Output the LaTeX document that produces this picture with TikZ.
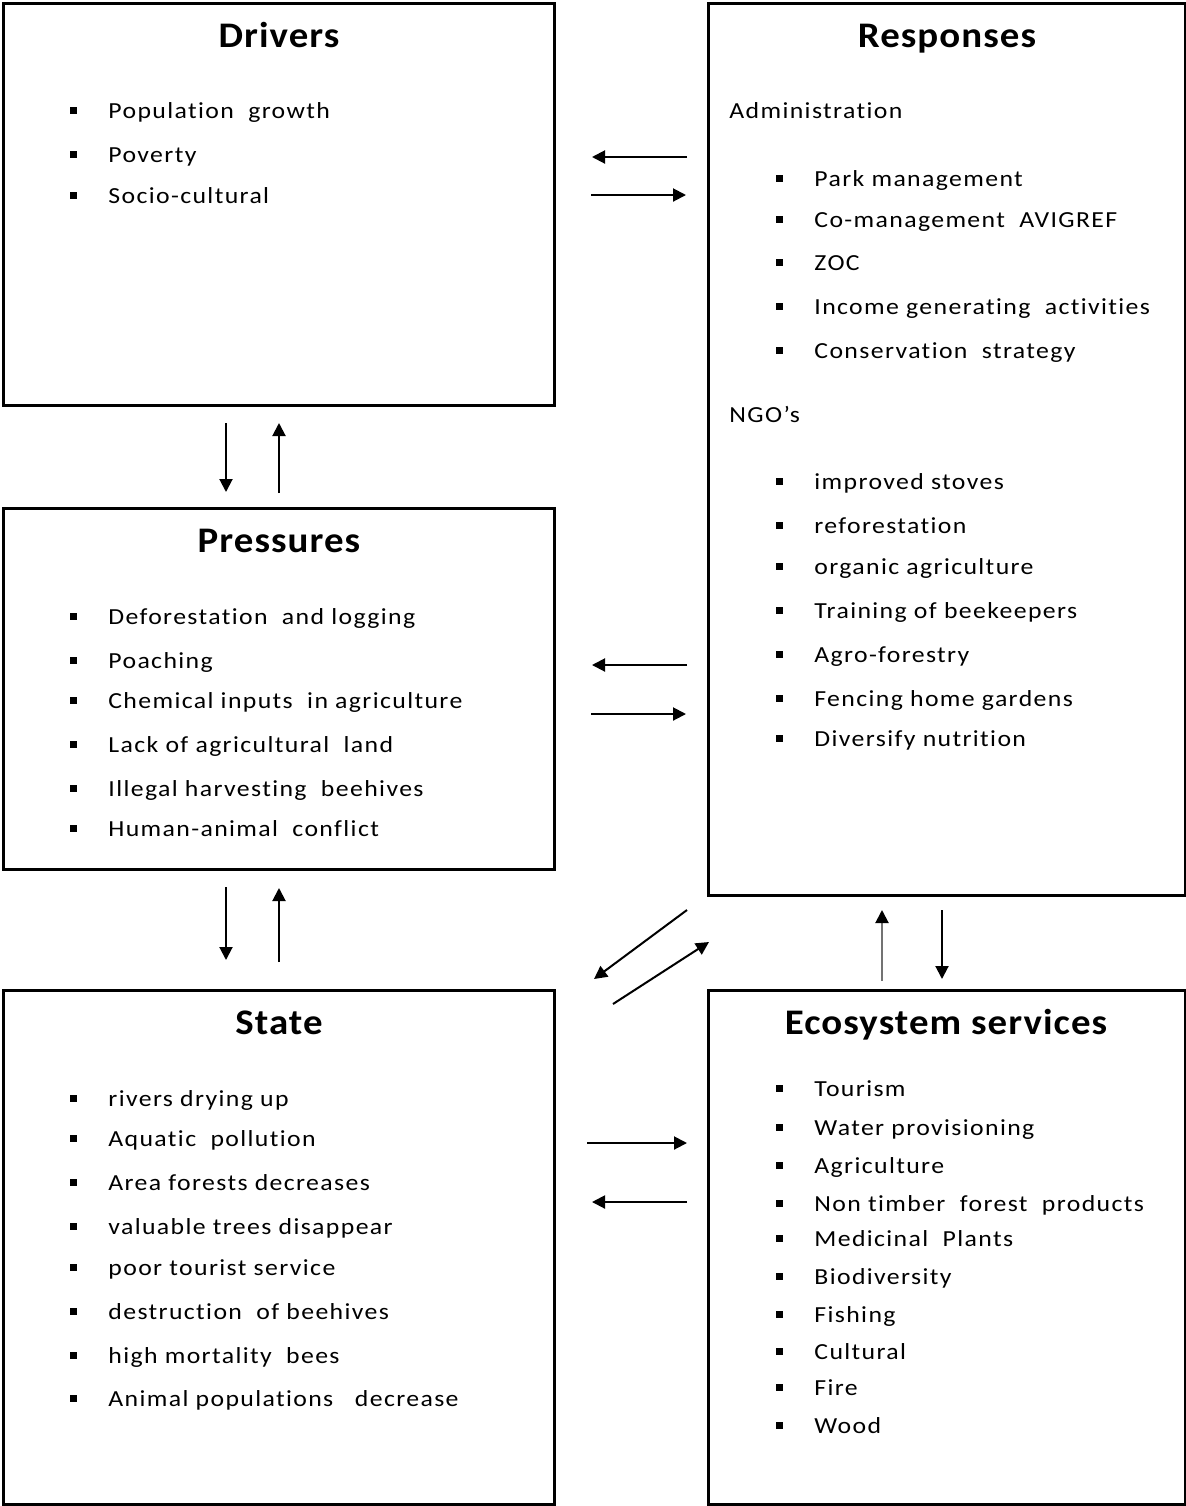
\documentclass[tikz,border=0pt]{standalone}
\usepackage{fontspec}
\setmainfont{Carlito}
\newfontfamily\bodyfont[FakeStretch=1.12,LetterSpace=6,Ligatures=NoCommon,RawFeature={-clig}]{Carlito}
\newfontfamily\titlefont[FakeStretch=1.08,LetterSpace=3,Ligatures=NoCommon]{Carlito}
\usetikzlibrary{arrows.meta}
\tikzset{
  box/.style={draw=black, line width=1.5pt},
  ttl/.style={anchor=base, font=\titlefont\fontsize{18}{20}\selectfont\bfseries, inner sep=0pt},
  itm/.style={anchor=base west, font=\bodyfont\fontsize{11.5}{13}\selectfont, inner sep=0pt},
  con/.style={line width=1pt, -{Triangle[length=6.5pt,width=6.5pt]}},
  greycon/.style={line width=1pt, draw=black!55, -{Triangle[length=6.5pt,width=6.5pt,black]}},
}
\newcommand{\bul}[2]{\fill (#1-3.5,#2-11.5) rectangle (#1+3.5,#2-4.5);}
\begin{document}
\begin{tikzpicture}[x=0.5pt,y=-0.5pt]
\useasboundingbox (0,0) rectangle (1186,1506);
% boxes
\draw[box] (3,3) rectangle (554,405);
\draw[box] (708,3) rectangle (1185,895);
\draw[box] (3,508) rectangle (554,869);
\draw[box] (3,990) rectangle (554,1504);
\draw[box] (708,990) rectangle (1185,1504);
% titles
\node[ttl] (tD) at (279,47) {Drivers};
\node[ttl] (tR) at (947,47) {Responses};
\node[ttl] (tP) at (279,552) {Pressures};
\node[ttl] (tS) at (279,1034) {State};
\node[ttl] (tE) at (946,1034) {Ecosystem services};
% Drivers
\foreach \y/\t [count=\i] in {118/{Population\ \ growth},162/Poverty,203/Socio-cultural}{
  \node[itm] (d\i) at (108,\y) {\t}; \bul{73}{\y}
}
% Responses
\node[itm] (adm) at (729,118) {Administration};
\foreach \y/\t [count=\i] in {186/Park management,227/{Co-management\ \ AVIGREF},270/ZOC,314/{Income generating\ \ activities},358/{Conservation\ \ strategy}}{
  \node[itm] (ra\i) at (814,\y) {\t}; \bul{779}{\y}
}
\node[itm] (ngo) at (729,422) {NGO’s};
\foreach \y/\t [count=\i] in {489/improved stoves,533/reforestation,574/organic agriculture,618/Training of beekeepers,662/Agro-forestry,706/Fencing home gardens,746/Diversify nutrition}{
  \node[itm] (rn\i) at (814,\y) {\t}; \bul{779}{\y}
}
% Pressures
\foreach \y/\t [count=\i] in {624/{Deforestation\ \ and logging},668/Poaching,708/{Chemical inputs\ \ in agriculture},752/{Lack of agricultural\ \ land},796/{Illegal harvesting\ \ beehives},836/{Human-animal\ \ conflict}}{
  \node[itm] (p\i) at (108,\y) {\t}; \bul{73}{\y}
}
% State
\foreach \y/\t [count=\i] in {1106/rivers drying up,1146/{Aquatic\ \ pollution},1190/Area forests decreases,1234/valuable trees disappear,1275/poor tourist service,1319/{destruction\ \ of beehives},1363/high mortality\ \ bees,1406/{Animal populations\ \ \ decrease}}{
  \node[itm] (s\i) at (108,\y) {\t}; \bul{73}{\y}
}
% Ecosystem services
\foreach \y/\t [count=\i] in {1096/Tourism,1135/Water provisioning,1173/Agriculture,1211/{Non timber\ \ forest\ \ products},1246/{Medicinal\ \ Plants},1284/Biodiversity,1322/Fishing,1359/Cultural,1395/Fire,1433/Wood}{
  \node[itm] (e\i) at (814,\y) {\t}; \bul{779}{\y}
}
% connector end points
\coordinate (a1s) at (687,157); \coordinate (a1e) at (592,157);
\coordinate (a2s) at (591,195); \coordinate (a2e) at (686,195);
\coordinate (a3s) at (226,423); \coordinate (a3e) at (226,492);
\coordinate (a4s) at (279,493); \coordinate (a4e) at (279,423);
\coordinate (a5s) at (687,665); \coordinate (a5e) at (592,665);
\coordinate (a6s) at (591,714); \coordinate (a6e) at (686,714);
\coordinate (a7s) at (226,887); \coordinate (a7e) at (226,960);
\coordinate (a8s) at (279,962); \coordinate (a8e) at (279,888);
\coordinate (a9s) at (687,910); \coordinate (a9e) at (594,979);
\coordinate (a10s) at (613,1004); \coordinate (a10e) at (709,942);
\coordinate (a11s) at (587,1143); \coordinate (a11e) at (687,1143);
\coordinate (a12s) at (687,1202); \coordinate (a12e) at (592,1202);
\coordinate (a13s) at (882,981); \coordinate (a13e) at (882,910);
\coordinate (a14s) at (942,910); \coordinate (a14e) at (942,979);
\foreach \i in {1,...,12,14}{ \draw[con] (a\i s) -- (a\i e); }
\draw[greycon] (a13s) -- (a13e);
\end{tikzpicture}
\end{document}
